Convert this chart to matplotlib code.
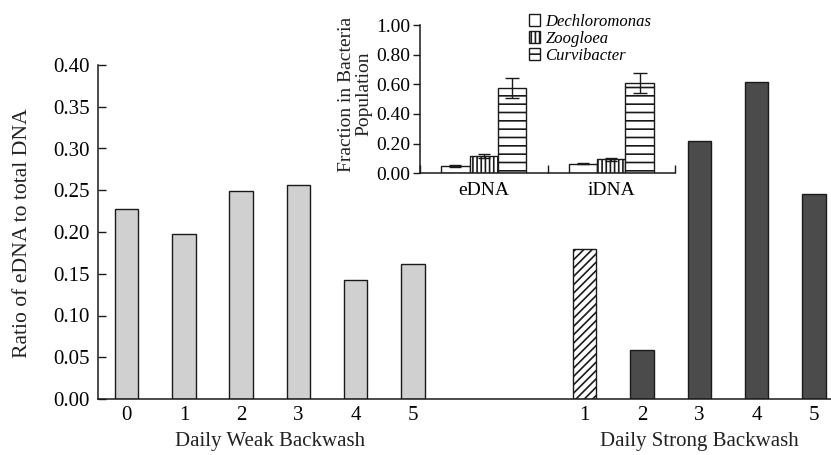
import matplotlib
matplotlib.use("Agg")
import matplotlib.pyplot as plt
import numpy as np

plt.rcParams["font.family"] = ["Liberation Serif", "DejaVu Serif"]
plt.rcParams["hatch.linewidth"] = 1.2

# main panel: ratio of eDNA to total DNA per day
weak_days = ["0", "1", "2", "3", "4", "5"]
weak_ratio = [0.228, 0.198, 0.249, 0.256, 0.143, 0.162]
strong_days = ["1", "2", "3", "4", "5"]
strong_ratio = [0.180, 0.059, 0.309, 0.380, 0.245]

# inset: genus fractions in eDNA / iDNA
inset_groups = ["eDNA", "iDNA"]
genera = ["Dechloromonas", "Zoogloea", "Curvibacter"]
genus_frac = {
    "Dechloromonas": [0.050, 0.065],
    "Zoogloea": [0.117, 0.094],
    "Curvibacter": [0.573, 0.607],
}
genus_err = {
    "Dechloromonas": [0.008, 0.005],
    "Zoogloea": [0.016, 0.008],
    "Curvibacter": [0.068, 0.066],
}
genus_hatch = {"Dechloromonas": "", "Zoogloea": "||||", "Curvibacter": "--"}

edge = "#1a1a1a"
fs = 15

fig = plt.figure(figsize=(8.31, 4.55), dpi=100)
ax = fig.add_axes([98 / 831, 56 / 455, 733 / 831, 334 / 455])

weak_x = np.arange(len(weak_days))
strong_x = np.arange(len(strong_days)) + 8
w = 0.41
ax.bar(weak_x, weak_ratio, width=w, color="#d0d0d0", edgecolor=edge, linewidth=1.0)
bars = ax.bar(strong_x, strong_ratio, width=w, color="#4b4b4b", edgecolor=edge, linewidth=1.0)
# first strong-backwash day is drawn hatched
bars[0].set_facecolor("white")
bars[0].set_hatch("////")

ax.set_xlim(-0.5, 12.3)
ax.set_ylim(0, 0.40)
ax.set_yticks(np.arange(0, 0.401, 0.05))
ax.set_yticklabels([f"{v:.2f}" for v in np.arange(0, 0.401, 0.05)], fontsize=fs)
ax.set_xticks(list(weak_x) + list(strong_x))
ax.set_xticklabels(weak_days + strong_days, fontsize=fs)
ax.tick_params(axis="y", direction="in", length=6, width=1, pad=6, color=edge)
ax.tick_params(axis="x", length=0, pad=5)
for s in ["top", "right"]:
    ax.spines[s].set_visible(False)
for s in ["left", "bottom"]:
    ax.spines[s].set_linewidth(1.1)
    ax.spines[s].set_color(edge)

ax.text(2.5, -0.051, "Daily Weak Backwash", ha="center", va="center", fontsize=fs,
        color="#222222")
ax.text(10, -0.051, "Daily Strong Backwash", ha="center", va="center", fontsize=fs,
        color="#222222")
fig.text(23 / 831, 1 - 233 / 455, "Ratio of eDNA to total DNA", rotation=90,
         ha="center", va="center", fontsize=15.6, color="#222222")

# inset panel
ins = fig.add_axes([420 / 831, 1 - 173.3 / 455, 255 / 831, 148.3 / 455])
gx = np.arange(len(inset_groups)) + 0.5
bw = 0.222
for i, g in enumerate(genera):
    ins.bar(gx + (i - 1) * bw, genus_frac[g], width=bw, color="white",
            edgecolor=edge, linewidth=1.0, hatch=genus_hatch[g], label=g,
            yerr=genus_err[g], error_kw=dict(ecolor=edge, elinewidth=1.0,
                                             capsize=4 if i < 2 else 5,
                                             capthick=1.0))
ins.set_xlim(0, 2)
ins.set_ylim(0, 1.0)
ins.set_yticks(np.arange(0, 1.01, 0.2))
ins.set_yticklabels([f"{v:.2f}" for v in np.arange(0, 1.01, 0.2)], fontsize=14)
ins.set_xticks([0, 1, 2])
ins.set_xticklabels([])
ins.set_xticks(gx, minor=True)
ins.set_xticklabels(inset_groups, minor=True, fontsize=14)
ins.tick_params(axis="x", which="major", direction="in", length=6, width=1, color=edge)
ins.tick_params(axis="x", which="minor", length=0, pad=6)
ins.tick_params(axis="y", direction="out", length=5, width=1, pad=2, color=edge)
for s in ["top", "right"]:
    ins.spines[s].set_visible(False)
for s in ["left", "bottom"]:
    ins.spines[s].set_linewidth(1.1)
    ins.spines[s].set_color(edge)

fig.text(355 / 831, 1 - 94 / 455, "Fraction in Bacteria\nPopulation", rotation=90,
         ha="center", va="center", fontsize=14, linespacing=1.0, color="#222222")

leg = ins.legend(loc="upper left", bbox_to_anchor=(0.4, 1.12), frameon=False,
                 prop={"style": "italic", "size": 12}, handlelength=0.7,
                 handleheight=0.7, handletextpad=0.3, labelspacing=0.05,
                 borderaxespad=0)

fig.savefig("out.png", dpi=100)
